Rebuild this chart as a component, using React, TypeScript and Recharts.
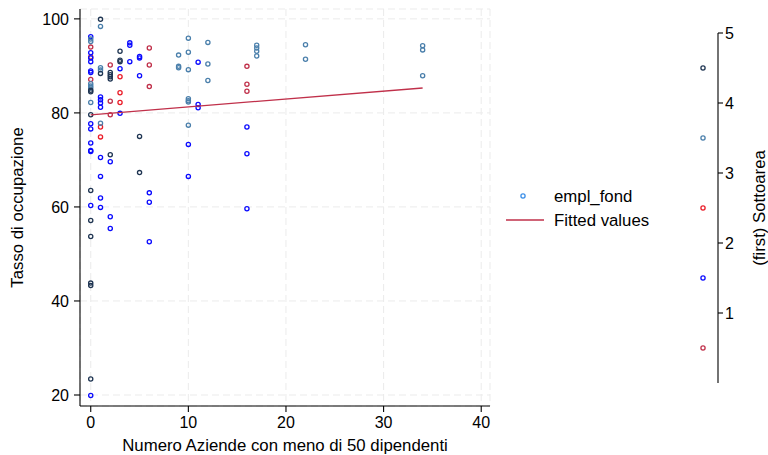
import React from 'react';
import { ScatterChart, Scatter, XAxis, YAxis, CartesianGrid, Legend, Label } from 'recharts';

// Axis ticks
const xTicks = [0, 10, 20, 30, 40];
const yTicks = [20, 40, 60, 80, 100];
const zTicks = [1, 2, 3, 4, 5];

// (first) Sottoarea groups: [Numero Aziende, Tasso di occupazione]
const sotto1: [number, number][] = [
  [0, 94.0], [0, 91.9], [0, 87.1],
  [2, 90.2], [2, 82.5], [2, 79.6],
  [6, 93.8], [6, 90.2], [6, 85.6],
  [16, 89.9], [16, 86.1], [16, 84.6],
];
const sotto2: [number, number][] = [
  [0, 96.2], [0, 92.8], [0, 91.7], [0, 90.9], [0, 88.9], [0, 88.6], [0, 77.7], [0, 76.6],
  [0, 73.6], [0, 72.0], [0, 71.8], [0, 60.3], [0, 19.9],
  [1, 83.4], [1, 82.8], [1, 82.1], [1, 81.2], [1, 70.5], [1, 66.5], [1, 61.9], [1, 59.9],
  [2, 69.6], [2, 57.9], [2, 55.4],
  [3, 89.4], [3, 79.9],
  [4, 94.9], [4, 94.4], [4, 90.9],
  [5, 92.0], [5, 91.7], [5, 87.9],
  [6, 63.0], [6, 61.0], [6, 52.6],
  [10, 73.3], [10, 66.5],
  [11, 90.8], [11, 81.8], [11, 81.1],
  [16, 77.0], [16, 71.3], [16, 59.6],
];
const sotto3: [number, number][] = [
  [1, 77.0], [1, 74.9],
  [3, 87.7], [3, 84.3], [3, 82.2],
];
const sotto4: [number, number][] = [
  [0, 95.7], [0, 95.2], [0, 86.2], [0, 85.7], [0, 85.3], [0, 82.2],
  [1, 98.4], [1, 89.6], [1, 89.1], [1, 77.8],
  [9, 92.3], [9, 89.9], [9, 89.6],
  [10, 95.9], [10, 92.9], [10, 89.2], [10, 83.0], [10, 82.6], [10, 82.3], [10, 77.4],
  [12, 95.0], [12, 90.4], [12, 86.9],
  [17, 94.4], [17, 93.8], [17, 93.1], [17, 92.1],
  [22, 94.5], [22, 91.4],
  [34, 94.3], [34, 93.4], [34, 87.9],
];
const sotto5: [number, number][] = [
  [0, 84.8], [0, 84.5], [0, 79.6], [0, 63.5], [0, 57.1], [0, 53.7], [0, 43.8], [0, 43.3], [0, 23.4],
  [1, 99.9], [1, 88.4],
  [2, 88.6], [2, 88.1], [2, 87.7], [2, 87.2], [2, 71.1],
  [3, 93.1], [3, 91.2], [3, 90.9],
  [5, 75.0], [5, 67.3],
];

// Fitted values line
const fitX = [0, 34];
const fitY = [79.6, 85.3];

// Colour key
const keyValues = [0.5, 1.5, 2.5, 3.5, 4.5];
const groupColors = ['#c0304a', '#0a0aff', '#ea1c28', '#4a7fab', '#1f3552'];
const legendMarkerColor = '#3a8ee8';
const fitColor = '#c0304a';

const groups = [sotto1, sotto2, sotto3, sotto4, sotto5];
const FONT = '"Liberation Sans", Arial, Helvetica, sans-serif';

const ring = (color: string) => (props: any) => {
  const { cx, cy } = props;
  if (cx == null || cy == null) return <g />;
  return <circle cx={cx} cy={cy} r={2.1} fill="none" stroke={color} strokeWidth={1.3} />;
};

const keyRing = (props: any) => {
  const { cx, cy, payload } = props;
  if (cx == null || cy == null) return <g />;
  return <circle cx={cx} cy={cy} r={2.1} fill="none" stroke={payload.color} strokeWidth={1.3} />;
};

const LegendBox = () => (
  <svg width={200} height={50} style={{ display: 'block', overflow: 'visible' }}>
    <circle cx={23} cy={12} r={2.1} fill="none" stroke={legendMarkerColor} strokeWidth={1.3} />
    <text x={54} y={18} fontSize={16.8} fill="#000" fontFamily={FONT}>empl_fond</text>
    <line x1={6} x2={44} y1={36} y2={36} stroke={fitColor} strokeWidth={1.3} />
    <text x={54} y={42} fontSize={16.8} fill="#000" fontFamily={FONT}>Fitted values</text>
  </svg>
);

export default function App() {
  const groupData = groups.map((g) => g.map(([x, y]) => ({ x, y })));
  const fitData = fitX.map((x, i) => ({ x, y: fitY[i] }));
  const keyData = keyValues.map((v, i) => ({ x: 0.5, y: v, color: groupColors[i] }));
  const axisStroke = { stroke: '#000', strokeWidth: 1.1 };
  const tickStyle = { fill: '#000', fontSize: 16 };

  return (
    <div style={{ position: 'absolute', left: 0, top: 0, width: 768, height: 455, background: '#fff', fontFamily: FONT }}>
      <ScatterChart width={768} height={455} margin={{ top: 9, right: 278, bottom: 0, left: 0 }}>
        <CartesianGrid stroke="#ebebeb" strokeDasharray="7 4" />
        <XAxis
          type="number"
          dataKey="x"
          domain={[-1.1, 40.9]}
          ticks={xTicks}
          interval={0}
          allowDataOverflow
          height={49}
          tickSize={6}
          tickMargin={5}
          axisLine={axisStroke}
          tickLine={axisStroke}
          tick={tickStyle}
        >
          <Label value="Numero Aziende con meno di 50 dipendenti" position="insideBottom" offset={4} style={{ fill: '#000', fontSize: 16.8 }} />
        </XAxis>
        <YAxis
          type="number"
          dataKey="y"
          domain={[17.66, 102.1]}
          ticks={yTicks}
          interval={0}
          allowDataOverflow
          width={80}
          tickSize={6}
          tickMargin={5}
          axisLine={axisStroke}
          tickLine={axisStroke}
          tick={tickStyle}
        >
          <Label value="Tasso di occupazione" angle={-90} position="insideLeft" offset={17} style={{ textAnchor: 'middle', fill: '#000', fontSize: 16.8 }} />
        </YAxis>
        {groupData.map((d, i) => (
          <Scatter key={i} data={d} shape={ring(groupColors[i])} isAnimationActive={false} />
        ))}
        <Scatter data={fitData} line={{ stroke: fitColor, strokeWidth: 1.3 }} shape={() => <g />} isAnimationActive={false} />
        <Legend
          layout="horizontal"
          verticalAlign="middle"
          align="center"
          content={() => <LegendBox />}
          wrapperStyle={{ position: 'absolute', left: 500, top: 184, width: 200, height: 50 }}
        />
      </ScatterChart>
      <div style={{ position: 'absolute', left: 0, top: 0 }}>
        <ScatterChart width={768} height={455} margin={{ top: 33, right: 0, bottom: 72, left: 688 }}>
          <XAxis type="number" dataKey="x" domain={[0, 1]} hide />
          <YAxis
            type="number"
            dataKey="y"
            orientation="right"
            domain={[0, 5]}
            ticks={zTicks}
            interval={0}
            width={50}
            tickSize={5}
            tickMargin={2}
            axisLine={axisStroke}
            tickLine={axisStroke}
            tick={tickStyle}
          >
            <Label value="(first) Sottoarea" angle={-90} position="insideRight" offset={9} style={{ textAnchor: 'middle', fill: '#000', fontSize: 16.8 }} />
          </YAxis>
          <Scatter data={keyData} shape={keyRing} isAnimationActive={false} />
        </ScatterChart>
      </div>
    </div>
  );
}
